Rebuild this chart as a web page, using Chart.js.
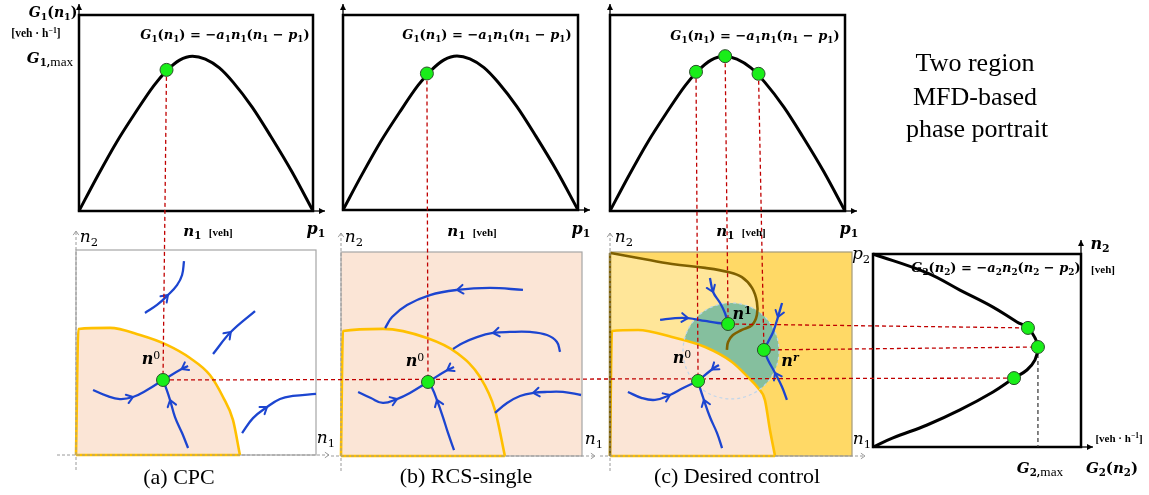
<!DOCTYPE html>
<html><head><meta charset="utf-8">
<script src="https://cdn.jsdelivr.net/npm/chart.js@4.4.1/dist/chart.umd.min.js"></script>
<style>
html,body{margin:0;padding:0;background:#fff;}
body{width:1149px;height:495px;overflow:hidden;position:relative;}
canvas{position:absolute;}
.t{position:absolute;white-space:nowrap;transform:translate(-50%,-50%);line-height:1;font-family:"Liberation Serif","Times New Roman",serif;color:#000;z-index:6;}
.m{font-family:"DejaVu Serif",serif;font-weight:bold;font-style:italic;}
.mi{font-family:"DejaVu Serif",serif;font-style:italic;}
.up{font-style:normal;}
.unit{font-family:"Liberation Serif",serif;font-weight:bold;font-style:normal;}
sub,sup{font-size:0.68em;line-height:0;position:relative;vertical-align:baseline;}
sub{top:0.32em;font-style:normal;}
sup{top:-0.5em;font-style:normal;}
</style></head><body>
<canvas id="ov" width="1149" height="495" style="left:0;top:0;z-index:5"></canvas>
<script>
// ================= DATA =================
// Top row: MFD curve G1(n1), normalised (n1 / p1 , G1 / frame height)
const g1CurveN1 = [0, 0.08, 0.16, 0.24, 0.32, 0.374, 0.43, 0.485, 0.54, 0.6, 0.66, 0.74, 0.82, 0.91, 1];
const g1CurveG1 = [0, 0.18, 0.35, 0.5, 0.64, 0.715, 0.77, 0.79, 0.775, 0.73, 0.655, 0.53, 0.38, 0.2, 0];
// equilibrium points shown on the MFD in each top panel
const cpcTopN1 = [0.374];               const cpcTopG1 = [0.72];
const rcsTopN1 = [0.357];               const rcsTopG1 = [0.70];
const desTopN1 = [0.366, 0.49, 0.632];  const desTopG1 = [0.71, 0.79, 0.70];

// Right panel: MFD curve G2(n2), normalised (G2 , n2 / p2)
const g2CurveN2 = [0, 0.047, 0.114, 0.192, 0.285, 0.357, 0.399, 0.451, 0.518, 0.565, 0.617, 0.648, 0.725, 0.813, 0.902, 1];
const g2CurveG2 = [0, 0.096, 0.26, 0.418, 0.577, 0.678, 0.74, 0.779, 0.793, 0.779, 0.745, 0.692, 0.577, 0.418, 0.26, 0];
const g2PointsG2 = [0.678, 0.793, 0.745];
const g2PointsN2 = [0.357, 0.518, 0.617];
const g2MaxLine = [[0.793, 0.518], [0.793, 0]];

// Phase portraits, (n1/p1 , n2/p2) pairs
// (a) CPC
const cpcBoundary = [[0,0],[0.01,0.615],[0.142,0.62],[0.267,0.585],[0.379,0.537],[0.475,0.473],[0.558,0.39],[0.6125,0.283],[0.654,0.171],[0.683,0]];
const cpcNode = [[0.3625, 0.366]];
const cpcTraj1 = [[0.2875,0.693],[0.3375,0.732],[0.383,0.78],[0.421,0.829],[0.442,0.878],[0.45,0.946]];
const cpcTraj2 = [[0.571,0.493],[0.645,0.60],[0.746,0.702]];
const cpcTraj3 = [[0.692,0.107],[0.7375,0.18],[0.796,0.234],[0.85,0.273],[0.904,0.288],[1.0,0.298]];
const cpcTraj4 = [[0.071,0.317],[0.129,0.288],[0.183,0.273],[0.2375,0.283],[0.296,0.317],[0.3625,0.366]];
const cpcTraj5 = [[0.467,0.434],[0.44,0.419],[0.3625,0.366]];
const cpcTraj6 = [[0.467,0.034],[0.442,0.107],[0.4125,0.185],[0.392,0.268],[0.375,0.327],[0.3625,0.366]];
// (b) RCS-single
const rcsBoundary = [[0,0],[0.008,0.613],[0.174,0.623],[0.357,0.578],[0.481,0.505],[0.577,0.387],[0.639,0.225],[0.68,0]];
const rcsNode = [[0.361, 0.363]];
const rcsTraj1 = [[0.755,0.814],[0.618,0.824],[0.481,0.814],[0.369,0.789],[0.274,0.74],[0.212,0.681],[0.183,0.627]];
const rcsTraj2 = [[0.909,0.51],[0.896,0.559],[0.855,0.593],[0.784,0.608],[0.701,0.608],[0.631,0.603],[0.564,0.583],[0.506,0.554],[0.465,0.525]];
const rcsTraj3 = [[0.996,0.299],[0.921,0.314],[0.855,0.314],[0.797,0.309],[0.743,0.294],[0.689,0.26],[0.639,0.211]];
const rcsTraj4 = [[0.071,0.314],[0.124,0.284],[0.174,0.26],[0.232,0.279],[0.286,0.309],[0.361,0.363]];
const rcsTraj5 = [[0.469,0.436],[0.44,0.42],[0.361,0.363]];
const rcsTraj6 = [[0.469,0.029],[0.444,0.113],[0.423,0.191],[0.398,0.275],[0.378,0.333],[0.361,0.363]];
// (c) Desired control
const desBoundary = [[0,0],[0.008,0.613],[0.116,0.618],[0.256,0.583],[0.393,0.534],[0.504,0.461],[0.57,0.387],[0.612,0.333],[0.64,0.275],[0.661,0.127],[0.682,0]];
const desSeparatrix = [[0.003,0.995],[0.116,0.971],[0.256,0.941],[0.393,0.922],[0.488,0.902],[0.545,0.877],[0.587,0.824],[0.607,0.755],[0.607,0.691],[0.587,0.642],[0.545,0.618],[0.508,0.593],[0.488,0.559],[0.483,0.52]];
const desUpperRegion = [[0,0.995],[0.116,0.971],[0.256,0.941],[0.393,0.922],[0.488,0.902],[0.545,0.877],[0.587,0.824],[0.607,0.755],[0.607,0.6],[0.6075,0]];
const desLeftEdge = [[0,0],[0,0.995]];
const desBasinCentre = [[0.5, 0.515]];
const desNodes = [[0.364,0.368],[0.488,0.647],[0.636,0.52]];   // n0, n1, nr
const desTraj1 = [[0.413,0.873],[0.426,0.804],[0.455,0.75],[0.475,0.701],[0.488,0.647]];
const desTraj2 = [[0.207,0.667],[0.269,0.676],[0.322,0.676],[0.393,0.662],[0.446,0.652],[0.488,0.647]];
const desTraj3 = [[0.711,0.75],[0.694,0.681],[0.674,0.608],[0.653,0.559],[0.636,0.52]];
const desTraj4 = [[0.731,0.275],[0.711,0.338],[0.682,0.407],[0.653,0.471],[0.636,0.52]];
const desTraj5 = [[0.074,0.314],[0.132,0.284],[0.186,0.275],[0.248,0.299],[0.302,0.333],[0.364,0.368]];
const desTraj6 = [[0.45,0.446],[0.421,0.424],[0.364,0.368]];
const desTraj7 = [[0.463,0.039],[0.442,0.113],[0.413,0.191],[0.388,0.275],[0.372,0.333],[0.364,0.368]];

// ================= STYLE / LAYOUT =================
const BLUE='#1C45D0', ORANGE='#FFC000', PEACH='#FBE5D6', GOLD='#FFD966', LIGHT='#FFE699',
      TEAL='#85BF9E', BROWN='#7F6000', NODE='#19EE19', RED='#C00000', GREY='#A6A6A6';
const basinRadiusPx = 48;
const PAD = 54;
const frames = {
  topA:{l:79,t:15,w:234,h:196}, topB:{l:343,t:15,w:235,h:195}, topC:{l:610,t:15,w:235,h:196},
  botA:{l:76,t:250,w:240,h:205}, botB:{l:341,t:252,w:241,h:204}, botC:{l:610,t:252,w:242,h:204},
  g2:{l:873,t:254,w:208,h:193}
};

const zip = (a,b) => a.map((v,i)=>({x:v,y:b[i]}));
const xy = arr => arr.map(p=>({x:p[0],y:p[1]}));

const framePlugin = {
  id:'frame',
  beforeDatasetsDraw(chart, args, o){
    const a = chart.chartArea, c = chart.ctx;
    c.save();
    if (o.bg){ c.fillStyle=o.bg; c.fillRect(a.left,a.top,a.right-a.left,a.bottom-a.top); }
    c.strokeStyle=o.color; c.lineWidth=o.width;
    c.strokeRect(a.left,a.top,a.right-a.left,a.bottom-a.top);
    c.restore();
  }
};
const dashPlugin = {
  id:'dashring',
  beforeDatasetDraw(chart, args){ if (chart.data.datasets[args.index].dashRing) chart.ctx.setLineDash([3,3]); },
  afterDatasetDraw(chart, args){ if (chart.data.datasets[args.index].dashRing) chart.ctx.setLineDash([]); }
};
const chevronPlugin = {
  id:'chevrons',
  afterDatasetsDraw(chart){
    const c = chart.ctx;
    chart.data.datasets.forEach((ds,i)=>{
      if (ds.arrowAt == null) return;
      const pts = chart.getDatasetMeta(i).data, k = ds.arrowAt;
      const p = pts[k], a = pts[Math.max(k-1,0)], b = pts[Math.min(k+1,pts.length-1)];
      const ang = Math.atan2(b.y-a.y, b.x-a.x), L=7.5, sp=0.62;
      c.save(); c.strokeStyle=ds.borderColor; c.lineWidth=2; c.lineCap='round'; c.lineJoin='round';
      c.beginPath();
      c.moveTo(p.x-L*Math.cos(ang-sp), p.y-L*Math.sin(ang-sp));
      c.lineTo(p.x,p.y);
      c.lineTo(p.x-L*Math.cos(ang+sp), p.y-L*Math.sin(ang+sp));
      c.stroke(); c.restore();
    });
  }
};

const charts = {};
function makeChart(key, datasets, frame){
  const b = frames[key];
  const cv = document.createElement('canvas');
  cv.width = b.w+2*PAD; cv.height = b.h+2*PAD;
  cv.style.left = (b.l-PAD)+'px'; cv.style.top = (b.t-PAD)+'px'; cv.style.zIndex = 1;
  document.body.appendChild(cv);
  const ch = new Chart(cv, {
    type:'line',
    data:{datasets},
    options:{
      responsive:false, animation:false, events:[], devicePixelRatio:1,
      layout:{padding:PAD},
      elements:{point:{radius:0}, line:{fill:false}},
      plugins:{legend:{display:false}, tooltip:{enabled:false}, frame},
      scales:{x:{type:'linear',min:0,max:1,display:false}, y:{type:'linear',min:0,max:1,display:false}}
    },
    plugins:[framePlugin, dashPlugin, chevronPlugin]
  });
  ch.$ox = b.l-PAD; ch.$oy = b.t-PAD;
  charts[key] = ch;
  return ch;
}
const nodeDs = (data) => ({label:'node', data, showLine:false, pointRadius:6.5, pointBackgroundColor:NODE,
  pointBorderColor:'#2B4D2B', pointBorderWidth:1, order:1, clip:false});
const trajDs = (pts,k) => ({label:'traj', data:xy(pts), borderColor:BLUE, borderWidth:2.3, tension:0.4,
  pointRadius:0, arrowAt:k, order:3, clip:false});
const regionDs = (pts, bg) => ({label:'region', data:xy(pts), borderColor:ORANGE, borderWidth:2.6, backgroundColor:bg,
  fill:'origin', cubicInterpolationMode:'monotone', pointRadius:0, order:8, clip:false});
const edgeDs = (pts) => ({label:'edge', data:[{x:pts[0][0],y:0},{x:pts[pts.length-1][0],y:0}], borderColor:ORANGE, borderWidth:2.6, pointRadius:0, order:7.5, clip:false});
const mfdDs = (data) => ({label:'mfd', data, borderColor:'#000', borderWidth:3, cubicInterpolationMode:'monotone', pointRadius:0, order:2, clip:false});
const blackFrame = {bg:null, color:'#000', width:2.5};

// top row
makeChart('topA', [nodeDs(zip(cpcTopN1,cpcTopG1)), mfdDs(zip(g1CurveN1,g1CurveG1))], blackFrame);
makeChart('topB', [nodeDs(zip(rcsTopN1,rcsTopG1)), mfdDs(zip(g1CurveN1,g1CurveG1))], blackFrame);
makeChart('topC', [nodeDs(zip(desTopN1,desTopG1)), mfdDs(zip(g1CurveN1,g1CurveG1))], blackFrame);

// bottom row
makeChart('botA', [
  nodeDs(xy(cpcNode)),
  trajDs(cpcTraj1,2), trajDs(cpcTraj2,1), trajDs(cpcTraj3,2), trajDs(cpcTraj4,3), trajDs(cpcTraj5,1), trajDs(cpcTraj6,3),
  edgeDs(cpcBoundary), regionDs(cpcBoundary, PEACH)
], {bg:'#fff', color:GREY, width:1.2});
makeChart('botB', [
  nodeDs(xy(rcsNode)),
  trajDs(rcsTraj1,2), trajDs(rcsTraj2,5), trajDs(rcsTraj3,3), trajDs(rcsTraj4,3), trajDs(rcsTraj5,1), trajDs(rcsTraj6,3),
  edgeDs(rcsBoundary), regionDs(rcsBoundary, PEACH)
], {bg:PEACH, color:GREY, width:1.2});
makeChart('botC', [
  nodeDs(xy(desNodes)),
  trajDs(desTraj1,1), trajDs(desTraj2,2), trajDs(desTraj3,1), trajDs(desTraj4,2), trajDs(desTraj5,3), trajDs(desTraj6,1), trajDs(desTraj7,3),
  {label:'sep', data:xy(desSeparatrix), borderColor:BROWN, borderWidth:2.6, tension:0.4, pointRadius:0, order:6, clip:false},
  {label:'leftedge', data:xy(desLeftEdge), borderColor:BROWN, borderWidth:2.4, pointRadius:0, order:6, clip:false},
  {label:'ring', data:xy(desBasinCentre), showLine:false, pointRadius:basinRadiusPx, pointBackgroundColor:'rgba(0,0,0,0)',
    pointBorderColor:'#BFD6EC', pointBorderWidth:1.2, dashRing:true, order:7, clip:false},
  edgeDs(desBoundary), regionDs(desBoundary, PEACH),
  {label:'basin', data:xy(desBasinCentre), showLine:false, pointRadius:basinRadiusPx, pointBackgroundColor:TEAL,
    pointBorderWidth:0, order:9, clip:false},
  {label:'upper', data:xy(desUpperRegion), borderWidth:0, backgroundColor:LIGHT, fill:'origin', tension:0, pointRadius:0, order:10, clip:false}
], {bg:GOLD, color:'#A39A7A', width:1.2});

// right panel G2
makeChart('g2', [
  nodeDs(zip(g2PointsG2, g2PointsN2)),
  {label:'mfd2', data:zip(g2CurveG2,g2CurveN2), borderColor:'#000', borderWidth:3, tension:0.4, pointRadius:0, order:2, clip:false},
  {label:'gmax', data:xy(g2MaxLine), borderColor:'#333', borderWidth:1.2, borderDash:[4,3], pointRadius:0, order:4, clip:false}
], blackFrame);

// ================= OVERLAY: axes arrows + projection lines =================
const ov = document.getElementById('ov').getContext('2d');
function area(key){ const ch=charts[key], a=ch.chartArea; return {l:a.left+ch.$ox, r:a.right+ch.$ox, t:a.top+ch.$oy, b:a.bottom+ch.$oy}; }
function nodeAt(key, k){ const ch=charts[key]; const e=ch.getDatasetMeta(0).data[k]; return {x:e.x+ch.$ox, y:e.y+ch.$oy}; }

function solidArrow(x1,y1,x2,y2){
  ov.save(); ov.strokeStyle='#000'; ov.fillStyle='#000'; ov.lineWidth=1.3;
  ov.beginPath(); ov.moveTo(x1,y1); ov.lineTo(x2,y2); ov.stroke();
  const a=Math.atan2(y2-y1,x2-x1);
  ov.beginPath(); ov.moveTo(x2,y2);
  ov.lineTo(x2-6*Math.cos(a)+3*Math.sin(a), y2-6*Math.sin(a)-3*Math.cos(a));
  ov.lineTo(x2-6*Math.cos(a)-3*Math.sin(a), y2-6*Math.sin(a)+3*Math.cos(a));
  ov.closePath(); ov.fill(); ov.restore();
}
function dashArrow(x1,y1,x2,y2){
  ov.save(); ov.strokeStyle='#9A9A9A'; ov.lineWidth=1; ov.setLineDash([3,2]);
  ov.beginPath(); ov.moveTo(x1,y1); ov.lineTo(x2,y2); ov.stroke();
  ov.setLineDash([]); const a=Math.atan2(y2-y1,x2-x1);
  ov.beginPath();
  ov.moveTo(x2-5*Math.cos(a-0.6), y2-5*Math.sin(a-0.6)); ov.lineTo(x2,y2);
  ov.lineTo(x2-5*Math.cos(a+0.6), y2-5*Math.sin(a+0.6)); ov.stroke();
  ov.restore();
}
['topA','topB','topC'].forEach(k=>{ const a=area(k); solidArrow(a.l,a.t,a.l,a.t-11); solidArrow(a.r,a.b,a.r+12,a.b); });
{ const a=area('g2'); solidArrow(a.r,a.t,a.r,a.t-14); solidArrow(a.r,a.b,a.r+12,a.b); }
[['botA',19],['botB',10],['botC',10]].forEach(([k,ext])=>{ const a=area(k);
  dashArrow(a.l,a.b+15,a.l,a.t-19); dashArrow(a.l-ext,a.b,a.r+13,a.b); });

// projection lines (red dashed), interrupted under the green points
const allNodes = [];
Object.values(charts).forEach(ch=>{
  ch.data.datasets.forEach((ds,i)=>{ if(ds.label==='node') ch.getDatasetMeta(i).data.forEach(e=>allNodes.push({x:e.x+ch.$ox,y:e.y+ch.$oy})); });
});
const links = [
  [nodeAt('topA',0), nodeAt('botA',0)],
  [nodeAt('topB',0), nodeAt('botB',0)],
  [nodeAt('topC',0), nodeAt('botC',0)],
  [nodeAt('topC',1), nodeAt('botC',1)],
  [nodeAt('topC',2), nodeAt('botC',2)],
  [nodeAt('botA',0), nodeAt('g2',0)],
  [nodeAt('botC',1), nodeAt('g2',2)],
  [nodeAt('botC',2), nodeAt('g2',1)]
];
ov.save();
ov.beginPath(); ov.rect(0,0,1149,495);
allNodes.forEach(p=>{ ov.moveTo(p.x+7.2,p.y); ov.arc(p.x,p.y,7.2,0,Math.PI*2,true); });
ov.clip('evenodd');
ov.strokeStyle=RED; ov.lineWidth=1.3; ov.setLineDash([4,3]);
links.forEach(([p,q])=>{ ov.beginPath(); ov.moveTo(p.x,p.y); ov.lineTo(q.x,q.y); ov.stroke(); });
ov.restore();

// ================= TEXT =================
function label(x,y,html,size,extra){
  const d=document.createElement('div'); d.className='t'; d.style.left=x+'px'; d.style.top=y+'px';
  d.style.fontSize=size+'px'; if(extra) d.style.cssText+=extra; d.innerHTML=html; document.body.appendChild(d);
}
const G1n1 = '<span class="m">G<sub>1</sub><span class="up">(</span>n<sub>1</sub><span class="up">)</span></span>';
const f1 = '<span class="m">G<sub>1</sub><span class="up">(</span>n<sub>1</sub><span class="up">) = −</span>a<sub>1</sub>n<sub>1</sub><span class="up">(</span>n<sub>1</sub><span class="up"> − </span>p<sub>1</sub><span class="up">)</span></span>';
const f2 = '<span class="m">G<sub>2</sub><span class="up">(</span>n<sub>2</sub><span class="up">) = −</span>a<sub>2</sub>n<sub>2</sub><span class="up">(</span>n<sub>2</sub><span class="up"> − </span>p<sub>2</sub><span class="up">)</span></span>';
const n1veh = '<span class="m">n<sub>1</sub></span>&nbsp;&nbsp;<span class="unit" style="font-size:11px">[veh]</span>';
const p1 = '<span class="m">p<sub>1</sub></span>';

label(53,12,G1n1,14);
label(36,34,'<span class="unit">[veh · h<sup>−1</sup>]</span>',11.5);
label(50,58,'<span class="m">G<sub>1,<span style="font-family:Liberation Serif;font-weight:normal;font-size:1.3em">max</span></sub></span>',15);
label(225,34,f1,13); label(487,34,f1,13); label(755,35,f1,13);
label(208,231,n1veh,15); label(472,231,n1veh,15); label(741,231,n1veh,15);
label(316,229,p1,16); label(581,229,p1,16); label(849,229,p1,16);

label(975,63,'Two region',26); label(975,97,'MFD-based',26); label(977,129,'phase portrait',26);

const n2i = '<span class="mi">n<sub>2</sub></span>', n1i = '<span class="mi">n<sub>1</sub></span>';
label(89,236,n2i,17); label(354,236,n2i,17); label(624,236,n2i,17);
label(326,437,n1i,17); label(594,438,n1i,17); label(862,438,n1i,17);
label(861,253,'<span class="mi">p<sub>2</sub></span>',17);
const n0 = '<span class="m">n<sup style="font-weight:normal">0</sup></span>';
label(151,359,n0,16); label(415,361,n0,16); label(682,358,n0,16);
label(742,314,'<span class="m">n<sup>1</sup></span>',16);
label(790,361,'<span class="m">n<sup style="font-style:italic">r</sup></span>',16);

label(179,477,'(a) CPC',22); label(466,476,'(b) RCS-single',22); label(737,476,'(c) Desired control',22);

label(1100,244,'<span class="m">n<sub>2</sub></span>',16);
label(1103,269,'<span class="unit">[veh]</span>',11);
label(996,267,f2,13);
label(1119,438,'<span class="unit">[veh · h<sup>−1</sup>]</span>',11);
label(1040,468,'<span class="m">G<sub>2,<span style="font-family:Liberation Serif;font-weight:normal;font-size:1.3em">max</span></sub></span>',15);
label(1112,468,'<span class="m">G<sub>2</sub><span class="up">(</span>n<sub>2</sub><span class="up">)</span></span>',15);
</script>
</body></html>
